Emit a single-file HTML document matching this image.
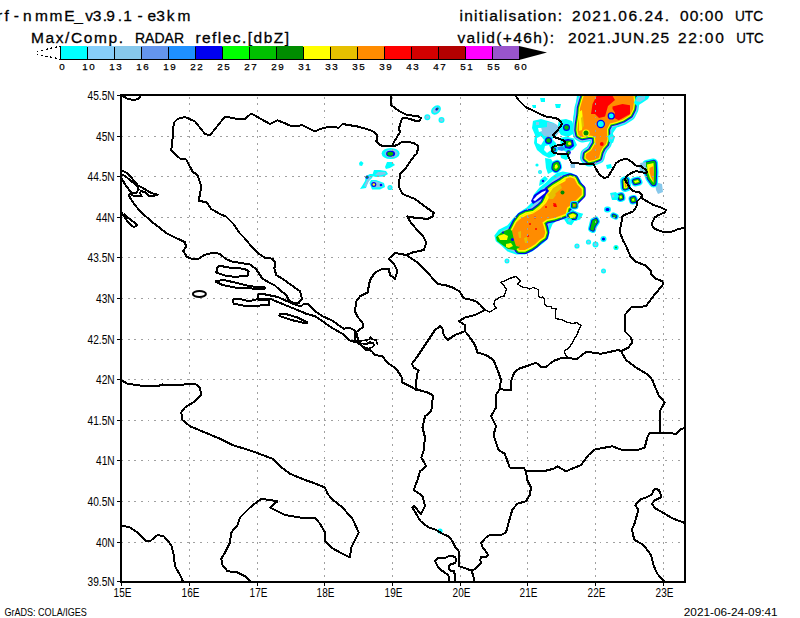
<!DOCTYPE html><html><head><meta charset="utf-8"><title>GrADS radar reflectivity</title><style>html,body{margin:0;padding:0;background:#fff;}svg{display:block;}text{font-family:"Liberation Sans",sans-serif;fill:#000;}</style></head><body>
<svg width="800" height="618" viewBox="0 0 800 618">
<rect x="0" y="0" width="800" height="618" fill="#fff"/>
<text x="-15.6 -3.1 4.42 13.78 23.05 34.95 49.55 64.35 74.25 85.3 92.75 102.85 106.33 117.85 123.2 137.4 147.5 156.2 166.72 177.43" y="21" font-size="15.5" stroke="#000" stroke-width="0.3">wrf-nmmE_v3.9.1-e3km</text>
<text x="31 45.51 55.72 65.07 70.97 83.76 93.98 108.48 118.7" y="43" font-size="15.5" stroke="#000" stroke-width="0.3">Max/Comp.</text>
<text x="135" y="43" font-size="15.5" textLength="48.99" lengthAdjust="spacingAndGlyphs" stroke="#000" stroke-width="0.3">RADAR</text>
<text x="195.4 202.02 212.1 217.87 222.78 232.86 242.07 247.84 253.61 263.69 273.77 284.7" y="43" font-size="15.5" stroke="#000" stroke-width="0.3">reflec.[dbZ]</text>
<text x="459.4 464.14 474.06 478.8 484.41 489.15 499.07 503.81 508.55 517.6 527.52 533.12 537.86 547.78 557.7" y="21" font-size="15.5" stroke="#000" stroke-width="0.3">initialisation:</text>
<text x="572 582.13 592.27 602.4 612.53 618.35 628.48 638.62 644.43 654.57 664.7" y="21" font-size="15.5" stroke="#000" stroke-width="0.3">2021.06.24.</text>
<text x="680 689.68 699.36 704.72 714.4" y="21" font-size="15.5" stroke="#000" stroke-width="0.3">00:00</text>
<text x="735" y="21" font-size="15.5" textLength="28.09" lengthAdjust="spacingAndGlyphs" stroke="#000" stroke-width="0.3">UTC</text>
<text x="457.5 466.62 476.61 481.43 486.24 496.24 502.77 513.19 523.18 533.18 543.17 549.7" y="42.7" font-size="15.5" stroke="#000" stroke-width="0.3">valid(+46h):</text>
<text x="568 577.68 587.35 597.03 606.7 612.06 620.87 633.12 645.36 650.72 660.4" y="42.7" font-size="15.5" stroke="#000" stroke-width="0.3">2021.JUN.25</text>
<text x="678 688.37 698.73 704.78 715.15" y="42.7" font-size="15.5" stroke="#000" stroke-width="0.3">22:00</text>
<text x="736.25" y="42.7" font-size="15.5" textLength="27.49" lengthAdjust="spacingAndGlyphs" stroke="#000" stroke-width="0.3">UTC</text>
<rect x="60" y="46" width="27" height="13" fill="#00ffff"/>
<rect x="87" y="46" width="27" height="13" fill="#87cefa"/>
<rect x="114" y="46" width="27" height="13" fill="#87c8eb"/>
<rect x="141" y="46" width="27" height="13" fill="#6495ed"/>
<rect x="168" y="46" width="27" height="13" fill="#1e90ff"/>
<rect x="195" y="46" width="27" height="13" fill="#0000f0"/>
<rect x="222" y="46" width="27" height="13" fill="#00ff00"/>
<rect x="249" y="46" width="27" height="13" fill="#00c000"/>
<rect x="276" y="46" width="27" height="13" fill="#008c00"/>
<rect x="303" y="46" width="27" height="13" fill="#ffff00"/>
<rect x="330" y="46" width="27" height="13" fill="#e6c000"/>
<rect x="357" y="46" width="27" height="13" fill="#ff8c00"/>
<rect x="384" y="46" width="27" height="13" fill="#ff0000"/>
<rect x="411" y="46" width="27" height="13" fill="#d20000"/>
<rect x="438" y="46" width="27" height="13" fill="#b40000"/>
<rect x="465" y="46" width="27" height="13" fill="#ff00ff"/>
<rect x="492" y="46" width="27" height="13" fill="#9955cc"/>
<rect x="87" y="47" width="1" height="12" fill="#000"/>
<rect x="114" y="47" width="1" height="12" fill="#000"/>
<rect x="141" y="47" width="1" height="12" fill="#000"/>
<rect x="168" y="47" width="1" height="12" fill="#000"/>
<rect x="195" y="47" width="1" height="12" fill="#000"/>
<rect x="222" y="47" width="1" height="12" fill="#000"/>
<rect x="249" y="47" width="1" height="12" fill="#000"/>
<rect x="276" y="47" width="1" height="12" fill="#000"/>
<rect x="303" y="47" width="1" height="12" fill="#000"/>
<rect x="330" y="47" width="1" height="12" fill="#000"/>
<rect x="357" y="47" width="1" height="12" fill="#000"/>
<rect x="384" y="47" width="1" height="12" fill="#000"/>
<rect x="411" y="47" width="1" height="12" fill="#000"/>
<rect x="438" y="47" width="1" height="12" fill="#000"/>
<rect x="465" y="47" width="1" height="12" fill="#000"/>
<rect x="492" y="47" width="1" height="12" fill="#000"/>
<rect x="60" y="46" width="1" height="14" fill="#000"/>
<rect x="59" y="46" width="1" height="1" fill="#000"/>
<rect x="59" y="59" width="461" height="1" fill="#000"/>
<path d="M57,46.8 L37,51.5 M57,58.3 L37,54.2" fill="none" stroke="#000" stroke-width="1.2" stroke-dasharray="2.2 2.6" shape-rendering="crispEdges"/>
<path d="M519,46 L547,52.5 L519,60 Z" fill="#000"/>
<text x="62" y="69.6" font-size="9.8" text-anchor="middle" stroke="#000" stroke-width="0.25">0</text>
<text x="89.2" y="69.6" font-size="9.8" text-anchor="middle" letter-spacing="1.4" stroke="#000" stroke-width="0.25">10</text>
<text x="116.2" y="69.6" font-size="9.8" text-anchor="middle" letter-spacing="1.4" stroke="#000" stroke-width="0.25">13</text>
<text x="143.2" y="69.6" font-size="9.8" text-anchor="middle" letter-spacing="1.4" stroke="#000" stroke-width="0.25">16</text>
<text x="170.2" y="69.6" font-size="9.8" text-anchor="middle" letter-spacing="1.4" stroke="#000" stroke-width="0.25">19</text>
<text x="197.2" y="69.6" font-size="9.8" text-anchor="middle" letter-spacing="1.4" stroke="#000" stroke-width="0.25">22</text>
<text x="224.2" y="69.6" font-size="9.8" text-anchor="middle" letter-spacing="1.4" stroke="#000" stroke-width="0.25">25</text>
<text x="251.2" y="69.6" font-size="9.8" text-anchor="middle" letter-spacing="1.4" stroke="#000" stroke-width="0.25">27</text>
<text x="278.2" y="69.6" font-size="9.8" text-anchor="middle" letter-spacing="1.4" stroke="#000" stroke-width="0.25">29</text>
<text x="305.2" y="69.6" font-size="9.8" text-anchor="middle" letter-spacing="1.4" stroke="#000" stroke-width="0.25">31</text>
<text x="332.2" y="69.6" font-size="9.8" text-anchor="middle" letter-spacing="1.4" stroke="#000" stroke-width="0.25">33</text>
<text x="359.2" y="69.6" font-size="9.8" text-anchor="middle" letter-spacing="1.4" stroke="#000" stroke-width="0.25">35</text>
<text x="386.2" y="69.6" font-size="9.8" text-anchor="middle" letter-spacing="1.4" stroke="#000" stroke-width="0.25">39</text>
<text x="413.2" y="69.6" font-size="9.8" text-anchor="middle" letter-spacing="1.4" stroke="#000" stroke-width="0.25">43</text>
<text x="440.2" y="69.6" font-size="9.8" text-anchor="middle" letter-spacing="1.4" stroke="#000" stroke-width="0.25">47</text>
<text x="467.2" y="69.6" font-size="9.8" text-anchor="middle" letter-spacing="1.4" stroke="#000" stroke-width="0.25">51</text>
<text x="494.2" y="69.6" font-size="9.8" text-anchor="middle" letter-spacing="1.4" stroke="#000" stroke-width="0.25">55</text>
<text x="521.2" y="69.6" font-size="9.8" text-anchor="middle" letter-spacing="1.4" stroke="#000" stroke-width="0.25">60</text>
<defs><clipPath id="mc"><rect x="121" y="95" width="564" height="487"/></clipPath></defs>
<g clip-path="url(#mc)">
<polygon points="577,95 576,104 574,112 573,120 575,128 576,136 582,140 590,140 592,146 587,152 582,156 583,162 590,164 595,164 600,162 603,158 606,152 609,146 611,140 613,133 617,127 624,123 631,118 636,112 638,105 642,100 648,96 650,95" fill="#00ffff"/>
<polygon points="559,120 566,119 572,121 574,127 573,134 568,137 561,135 557,129" fill="#00ffff"/>
<polygon points="533,121 541,119 548,121 554,123 558,128 557,135 552,139 556,143 558,150 555,156 549,158 543,155 537,150 534,143 535,135 532,128" fill="#00ffff"/>
<polygon points="545,158 551,159 554,164 552,172 548,174 546,168" fill="#00ffff"/>
<polygon points="560,138 566,136.5 574,138.5 577,145 573,150 566,152 561,149" fill="#00ffff"/>
<polygon points="560,153 566,153 570,157 566,160 561,158" fill="#00ffff"/>
<polygon points="540,124 548,122 556,124 560,128 558,134 552,137 544,136 540,131" fill="#87c8eb"/>
<polygon points="575,112 578,108 580,120 578,132 574,130 573,120" fill="#87c8eb"/>
<polygon points="537,138 541,136 544,140 541,145 537,143" fill="#ffffff"/>
<polygon points="545,146 549,145 551,150 547,153 544,150" fill="#ffffff"/>
<polygon points="538,128 541,127 542,131 539,132" fill="#ffffff"/>
<polygon points="584,95 582,101 580,108 579.5,115 578,124 577.5,130 578.5,135 582,137 590,135.5 595,136.5 595.5,143 591,150.5 586,154 585.5,158 589,161 594,160 599,158 600.5,152 602.5,148 606,144 607.5,139 607,133 607,129 610,123.5 616,122 623,119.5 630,115 633,109 634,102 633.5,95" fill="#00ffff" stroke="#00ffff" stroke-width="11" stroke-linejoin="round"/>
<polygon points="584,95 582,101 580,108 579.5,115 578,124 577.5,130 578.5,135 582,137 590,135.5 595,136.5 595.5,143 591,150.5 586,154 585.5,158 589,161 594,160 599,158 600.5,152 602.5,148 606,144 607.5,139 607,133 607,129 610,123.5 616,122 623,119.5 630,115 633,109 634,102 633.5,95" fill="#87c8eb" stroke="#87c8eb" stroke-width="8.6" stroke-linejoin="round"/>
<polygon points="584,95 582,101 580,108 579.5,115 578,124 577.5,130 578.5,135 582,137 590,135.5 595,136.5 595.5,143 591,150.5 586,154 585.5,158 589,161 594,160 599,158 600.5,152 602.5,148 606,144 607.5,139 607,133 607,129 610,123.5 616,122 623,119.5 630,115 633,109 634,102 633.5,95" fill="#0000f0" stroke="#0000f0" stroke-width="6.4" stroke-linejoin="round"/>
<polygon points="584,95 582,101 580,108 579.5,115 578,124 577.5,130 578.5,135 582,137 590,135.5 595,136.5 595.5,143 591,150.5 586,154 585.5,158 589,161 594,160 599,158 600.5,152 602.5,148 606,144 607.5,139 607,133 607,129 610,123.5 616,122 623,119.5 630,115 633,109 634,102 633.5,95" fill="#00c000" stroke="#00c000" stroke-width="4.4" stroke-linejoin="round"/>
<polygon points="584,95 582,101 580,108 579.5,115 578,124 577.5,130 578.5,135 582,137 590,135.5 595,136.5 595.5,143 591,150.5 586,154 585.5,158 589,161 594,160 599,158 600.5,152 602.5,148 606,144 607.5,139 607,133 607,129 610,123.5 616,122 623,119.5 630,115 633,109 634,102 633.5,95" fill="#ffff00" stroke="#ffff00" stroke-width="2.4" stroke-linejoin="round"/>
<polygon points="584,95 582,101 580,108 579.5,115 578,124 577.5,130 578.5,135 582,137 590,135.5 595,136.5 595.5,143 591,150.5 586,154 585.5,158 589,161 594,160 599,158 600.5,152 602.5,148 606,144 607.5,139 607,133 607,129 610,123.5 616,122 623,119.5 630,115 633,109 634,102 633.5,95" fill="#ff8c00"/>
<polygon points="597,95 612,95 615,100 608,106 605,116.5 599,118 595,114 591,114 592.5,104" fill="#ff0000"/>
<polygon points="612.5,106.5 622.5,104 630,105.25 630,114 618.75,120.25 613.75,117.75 615,112.75 612.5,109" fill="#ff0000"/>
<circle cx="611.25" cy="115.9" r="3.6" fill="#0000f0"/>
<circle cx="611.25" cy="115.9" r="2.4" fill="#00ffff"/>
<circle cx="600.8" cy="124" r="4.2" fill="#0000f0"/>
<circle cx="600.8" cy="124" r="3" fill="#00ffff"/>
<polygon points="579,112 582,110 583,121 582,130 579,131" fill="#ffff00"/>
<polygon points="581,118 583,116 584,126 582,128" fill="#e6c000"/>
<circle cx="586" cy="133" r="3.6" fill="#ffff00"/>
<circle cx="586" cy="133" r="2.5" fill="#008c00"/>
<circle cx="601.8" cy="144" r="1.9" fill="#ff0000"/>
<circle cx="566.5" cy="127.5" r="3.5" fill="#0000f0"/>
<circle cx="566.5" cy="127.5" r="2.3" fill="#00c000"/>
<circle cx="548.5" cy="140.5" r="3.5" fill="#0000f0"/>
<circle cx="548.5" cy="140.5" r="2.3" fill="#00c000"/>
<polygon points="563,140 568,139 573,140 574,146 570,149 565,148" fill="#0000f0"/>
<polygon points="565,141 571,140.5 572,145 568,147 566,146" fill="#00c000"/>
<circle cx="569.5" cy="143.5" r="1.6" fill="#ffff00"/>
<circle cx="554" cy="149.5" r="2.2" fill="#0000f0"/>
<circle cx="554" cy="149.5" r="1.2" fill="#00c000"/>
<circle cx="568.5" cy="152.5" r="2.3" fill="#0000f0"/>
<circle cx="568.5" cy="152.5" r="1.3" fill="#00c000"/>
<polygon points="557,147 562,146 566,149 562,151 558,150" fill="#1e90ff"/>
<polygon points="555,165 557,164 558,167 556,169 554.5,168" fill="#00ffff" stroke="#00ffff" stroke-width="8.4" stroke-linejoin="round"/>
<polygon points="555,165 557,164 558,167 556,169 554.5,168" fill="#0000f0" stroke="#0000f0" stroke-width="6.4" stroke-linejoin="round"/>
<polygon points="555,165 557,164 558,167 556,169 554.5,168" fill="#00c000" stroke="#00c000" stroke-width="4.4" stroke-linejoin="round"/>
<polygon points="555,165 557,164 558,167 556,169 554.5,168" fill="#ffff00"/>
<polygon points="570,164 575,164 575,168 571,168" fill="#87c8eb"/>
<polygon points="540,98 545,98 545,102 541,102" fill="#00ffff"/>
<polygon points="555,104 561,104 560,108 556,108" fill="#00ffff"/>
<polygon points="532,105 536,105 536,108 533,108" fill="#00ffff"/>
<polygon points="533,121 540,120 547,122 547,127 540,128 534,126" fill="#00ffff"/>
<polygon points="536,122 539,122 539,125 536,125" fill="#87c8eb"/>
<circle cx="537" cy="165" r="1.6" fill="#00ffff"/>
<circle cx="540" cy="172" r="2" fill="#00ffff"/>
<circle cx="540" cy="172" r="1" fill="#87c8eb"/>
<polygon points="494.4,235.5 498.7,229.7 507.5,225.3 513.3,218 519.1,212.2 526.4,207.8 532.2,202 533.7,194.7 539.5,187.5 545.3,183.1 551.1,177.3 557,172.9 562.8,171.5 571.5,172.9 577.3,175.8 580.2,180.2 584.6,188.9 583.2,196.2 580.2,200.6 574.4,204.9 571.5,209.3 577.3,212.2 583.2,213.7 580.2,219.5 574.4,220.9 571.5,225.3 567.1,223.9 564.2,219.5 558.4,219.5 552.6,223.9 549.7,231.1 548.2,238.4 543.9,242.8 538,247.1 532.2,251.5 524.9,254.4 516.2,254.4 507.5,251.5 501.6,245.7 495.8,241.3" fill="#00ffff"/>
<polygon points="498,236 502,231 510,227 516,220 522,214 529,209 535,203 537,195 542,189 548,185 553,180 559,176 566,174.5 573,175.5 578,179 582,188 581,195 577,200 571,205 570,210 576,213 579,216 575,219 569,221 566,218 558,217.5 551,221.5 547,230 546,237 541,242 535,246.5 530,250 524,252.5 516,252.5 508,249.5 502,244 497,240.5" fill="#87c8eb"/>
<polygon points="511.8,231.1 516.2,222.4 520.6,216.6 526.4,213.7 533.7,212.2 539.5,207.8 543.9,203.5 546.8,197.7 548.2,190.4 554,186 561.3,181.6 565.7,178.7 570.1,177.3 574.4,178.7 577.3,184.6 581.7,188.9 581.7,194.7 577.3,199.1 573,203.5 567.1,207.8 565.7,213.7 558.4,216.6 554,218 546.8,219.5 542.4,222.4 543.9,226.8 545.3,232.6 543.9,237 539.5,239.9 535.1,244.2 530.8,247.1 524.9,250.1 519.1,250.1 516.2,245.7 514.7,241.3 511.8,235.5" fill="#0000f0" stroke="#0000f0" stroke-width="8" stroke-linejoin="round"/>
<polygon points="511.8,231.1 516.2,222.4 520.6,216.6 526.4,213.7 533.7,212.2 539.5,207.8 543.9,203.5 546.8,197.7 548.2,190.4 554,186 561.3,181.6 565.7,178.7 570.1,177.3 574.4,178.7 577.3,184.6 581.7,188.9 581.7,194.7 577.3,199.1 573,203.5 567.1,207.8 565.7,213.7 558.4,216.6 554,218 546.8,219.5 542.4,222.4 543.9,226.8 545.3,232.6 543.9,237 539.5,239.9 535.1,244.2 530.8,247.1 524.9,250.1 519.1,250.1 516.2,245.7 514.7,241.3 511.8,235.5" fill="#00c000" stroke="#00c000" stroke-width="5.6" stroke-linejoin="round"/>
<polygon points="511.8,231.1 516.2,222.4 520.6,216.6 526.4,213.7 533.7,212.2 539.5,207.8 543.9,203.5 546.8,197.7 548.2,190.4 554,186 561.3,181.6 565.7,178.7 570.1,177.3 574.4,178.7 577.3,184.6 581.7,188.9 581.7,194.7 577.3,199.1 573,203.5 567.1,207.8 565.7,213.7 558.4,216.6 554,218 546.8,219.5 542.4,222.4 543.9,226.8 545.3,232.6 543.9,237 539.5,239.9 535.1,244.2 530.8,247.1 524.9,250.1 519.1,250.1 516.2,245.7 514.7,241.3 511.8,235.5" fill="#ffff00" stroke="#ffff00" stroke-width="3.2" stroke-linejoin="round"/>
<polygon points="511.8,231.1 516.2,222.4 520.6,216.6 526.4,213.7 533.7,212.2 539.5,207.8 543.9,203.5 546.8,197.7 548.2,190.4 554,186 561.3,181.6 565.7,178.7 570.1,177.3 574.4,178.7 577.3,184.6 581.7,188.9 581.7,194.7 577.3,199.1 573,203.5 567.1,207.8 565.7,213.7 558.4,216.6 554,218 546.8,219.5 542.4,222.4 543.9,226.8 545.3,232.6 543.9,237 539.5,239.9 535.1,244.2 530.8,247.1 524.9,250.1 519.1,250.1 516.2,245.7 514.7,241.3 511.8,235.5" fill="#ff8c00"/>
<polygon points="516.2,222.4 520.6,216.6 526.4,213.7 533.7,212.2 539.5,207.8 543.9,203.5 546.8,197.7 548.2,190.4 554,186 561.3,181.6 565.7,178.7 565.5,181 559,184.5 553,189 550,196 546,203 540,209 533,213.5 526,215.5 520,219" fill="#ffff00"/>
<polygon points="553,188 560,184 562,188 556,193 551,198 549,194" fill="#e6c000"/>
<polygon points="650,95 643,95 636,97 634,103 637,106 642,103 648,99" fill="#00ffff"/>
<polygon points="645,96 638,97 636,101 640,102 645,99" fill="#87c8eb"/>
<polygon points="608,136 612,133 615,137 613,143 609,142" fill="#00ffff"/>
<circle cx="611.5" cy="138" r="1.5" fill="#87c8eb"/>
<polygon points="540,180 545,176 548,179 543,184 539,186" fill="#00ffff"/>
<circle cx="543" cy="181" r="1.3" fill="#0000f0"/>
<polygon points="548,194 553,191 556,195 553,199 549,199" fill="#e6c000"/>
<ellipse cx="539.5" cy="196" rx="8" ry="2.8" transform="rotate(-38 539.5 196)" fill="#ffffff"/>
<polygon points="531,201 534,195 541,190 547,188 549,191 544,197 538,201 533,204" fill="#0000f0"/>
<polygon points="533,200 537,195.5 542,192 546,190.5 545,193 540,197 535,201" fill="#ffffff"/>
<circle cx="562.5" cy="192.5" r="2" fill="#008c00"/>
<polygon points="496,237 502,232 509,229 514,232 517,240 520,247 515,250 508,249 501,244 497,241" fill="#00c000"/>
<polygon points="498,236 504,234 508,236 507,240 500,240" fill="#ffff00"/>
<polygon points="506,244 511,243 513,246 509,248 506,247" fill="#ffff00"/>
<circle cx="512.5" cy="239.5" r="1.6" fill="#0000f0"/>
<circle cx="503" cy="232.5" r="1" fill="#0000f0"/>
<polygon points="512,231 516,226 519,230 518,240 520,247 516,246 514,240" fill="#ff8c00"/>
<circle cx="554.5" cy="205.5" r="1.2" fill="#ff0000"/>
<polygon points="553,203 556,203.5 557,207 554.5,207" fill="#ff0000"/>
<circle cx="546" cy="207" r="1" fill="#ff0000"/>
<circle cx="535" cy="217.5" r="1" fill="#ff0000"/>
<circle cx="530" cy="224" r="1" fill="#ff0000"/>
<circle cx="536" cy="229" r="1" fill="#ff0000"/>
<circle cx="528" cy="236" r="1" fill="#ff0000"/>
<polygon points="518,232 521,231 521,238 519,238" fill="#e6c000"/>
<polygon points="524,238 527,237 528,243 525,243" fill="#e6c000"/>
<polygon points="569,215 573,213.5 576,215 575,218 570,218" fill="#00ffff" stroke="#00ffff" stroke-width="6" stroke-linejoin="round"/>
<polygon points="569,215 573,213.5 576,215 575,218 570,218" fill="#0000f0" stroke="#0000f0" stroke-width="4" stroke-linejoin="round"/>
<polygon points="569,215 573,213.5 576,215 575,218 570,218" fill="#00c000" stroke="#00c000" stroke-width="2" stroke-linejoin="round"/>
<polygon points="569,215 573,213.5 576,215 575,218 570,218" fill="#ffff00"/>
<polygon points="573,204 575.5,204 575.5,206.5 573,206.5" fill="#00ffff" stroke="#00ffff" stroke-width="6" stroke-linejoin="round"/>
<polygon points="573,204 575.5,204 575.5,206.5 573,206.5" fill="#0000f0" stroke="#0000f0" stroke-width="4" stroke-linejoin="round"/>
<polygon points="573,204 575.5,204 575.5,206.5 573,206.5" fill="#00c000" stroke="#00c000" stroke-width="2.4" stroke-linejoin="round"/>
<polygon points="573,204 575.5,204 575.5,206.5 573,206.5" fill="#ff8c00"/>
<circle cx="569.5" cy="220.5" r="2.6" fill="#00ffff"/>
<circle cx="569.5" cy="220.5" r="1.4" fill="#87c8eb"/>
<polygon points="593,221 596,219.5 597,221.5 594,226 593,230 591,229" fill="#00ffff" stroke="#00ffff" stroke-width="6" stroke-linejoin="round"/>
<polygon points="593,221 596,219.5 597,221.5 594,226 593,230 591,229" fill="#0000f0" stroke="#0000f0" stroke-width="3.6" stroke-linejoin="round"/>
<polygon points="593,221 596,219.5 597,221.5 594,226 593,230 591,229" fill="#00c000" stroke="#00c000" stroke-width="1.6" stroke-linejoin="round"/>
<polygon points="593,221 596,219.5 597,221.5 594,226 593,230 591,229" fill="#00c000"/>
<polygon points="655,182 662,184 663,192 658,194 656,190" fill="#87c8eb"/>
<polygon points="647,164.5 653.5,163 654,172 653.5,183 650,178 647.5,171" fill="#00ffff" stroke="#00ffff" stroke-width="9" stroke-linejoin="round"/>
<polygon points="647,164.5 653.5,163 654,172 653.5,183 650,178 647.5,171" fill="#0000f0" stroke="#0000f0" stroke-width="6.4" stroke-linejoin="round"/>
<polygon points="647,164.5 653.5,163 654,172 653.5,183 650,178 647.5,171" fill="#00c000" stroke="#00c000" stroke-width="4.4" stroke-linejoin="round"/>
<polygon points="647,164.5 653.5,163 654,172 653.5,183 650,178 647.5,171" fill="#ffff00"/>
<polygon points="649.5,168 653.5,166 654,174 653.5,182 651,177 649.5,172" fill="#ff8c00"/>
<polygon points="639,165 644,164 647,168 645,172 640,171" fill="#87c8eb"/>
<polygon points="640,163 646,162 646,166 641,167" fill="#87c8eb"/>
<polygon points="624.5,181 626,180.5 626.5,187 625,187.5" fill="#00ffff" stroke="#00ffff" stroke-width="9" stroke-linejoin="round"/>
<polygon points="624.5,181 626,180.5 626.5,187 625,187.5" fill="#0000f0" stroke="#0000f0" stroke-width="6" stroke-linejoin="round"/>
<polygon points="624.5,181 626,180.5 626.5,187 625,187.5" fill="#00c000" stroke="#00c000" stroke-width="4" stroke-linejoin="round"/>
<polygon points="624.5,181 626,180.5 626.5,187 625,187.5" fill="#ffff00" stroke="#ffff00" stroke-width="2" stroke-linejoin="round"/>
<polygon points="624.5,181 626,180.5 626.5,187 625,187.5" fill="#ff8c00"/>
<polygon points="634,181 638,180 639,182 635,183" fill="#00ffff" stroke="#00ffff" stroke-width="7" stroke-linejoin="round"/>
<polygon points="634,181 638,180 639,182 635,183" fill="#0000f0" stroke="#0000f0" stroke-width="4.4" stroke-linejoin="round"/>
<polygon points="634,181 638,180 639,182 635,183" fill="#00c000" stroke="#00c000" stroke-width="2.4" stroke-linejoin="round"/>
<polygon points="634,181 638,180 639,182 635,183" fill="#ffff00"/>
<polygon points="632,199 634,198.5 634.5,200.5 632.5,201" fill="#00ffff" stroke="#00ffff" stroke-width="7" stroke-linejoin="round"/>
<polygon points="632,199 634,198.5 634.5,200.5 632.5,201" fill="#0000f0" stroke="#0000f0" stroke-width="5" stroke-linejoin="round"/>
<polygon points="632,199 634,198.5 634.5,200.5 632.5,201" fill="#00c000" stroke="#00c000" stroke-width="3" stroke-linejoin="round"/>
<polygon points="632,199 634,198.5 634.5,200.5 632.5,201" fill="#ffff00"/>
<polygon points="619.5,196 621.5,195.5 622,198 620,198.5" fill="#00ffff" stroke="#00ffff" stroke-width="7" stroke-linejoin="round"/>
<polygon points="619.5,196 621.5,195.5 622,198 620,198.5" fill="#0000f0" stroke="#0000f0" stroke-width="4.6" stroke-linejoin="round"/>
<polygon points="619.5,196 621.5,195.5 622,198 620,198.5" fill="#00c000" stroke="#00c000" stroke-width="2.6" stroke-linejoin="round"/>
<polygon points="619.5,196 621.5,195.5 622,198 620,198.5" fill="#ffff00"/>
<polygon points="610,193 616,192 619,196 617,200 612,200" fill="#00ffff"/>
<circle cx="613" cy="196" r="1.5" fill="#87c8eb"/>
<polygon points="607,209.5 608,209.5" fill="#00ffff" stroke="#00ffff" stroke-width="6" stroke-linejoin="round"/>
<polygon points="607,209.5 608,209.5" fill="#0000f0" stroke="#0000f0" stroke-width="3" stroke-linejoin="round"/>
<polygon points="607,209.5 608,209.5" fill="#0000f0"/>
<polygon points="613.5,215.5 615.5,216.5" fill="#00ffff" stroke="#00ffff" stroke-width="6.4" stroke-linejoin="round"/>
<polygon points="613.5,215.5 615.5,216.5" fill="#0000f0" stroke="#0000f0" stroke-width="4" stroke-linejoin="round"/>
<polygon points="613.5,215.5 615.5,216.5" fill="#00c000" stroke="#00c000" stroke-width="2" stroke-linejoin="round"/>
<polygon points="613.5,215.5 615.5,216.5" fill="#00c000"/>
<circle cx="595.5" cy="244.5" r="3" fill="#00ffff"/>
<circle cx="595.5" cy="244.5" r="1.6" fill="#87c8eb"/>
<circle cx="577" cy="246" r="2.6" fill="#00ffff"/>
<circle cx="577" cy="246" r="1.3" fill="#87c8eb"/>
<circle cx="588.5" cy="242" r="2.6" fill="#00ffff"/>
<circle cx="588.5" cy="242" r="1.3" fill="#87c8eb"/>
<circle cx="603.5" cy="239" r="3" fill="#00ffff"/>
<circle cx="603.5" cy="239" r="1.6" fill="#0000f0"/>
<circle cx="616" cy="247.5" r="2.6" fill="#00ffff"/>
<circle cx="616" cy="247.5" r="1" fill="#00c000"/>
<circle cx="603.5" cy="271" r="2.5" fill="#00ffff"/>
<circle cx="603.5" cy="271" r="1.2" fill="#87c8eb"/>
<circle cx="507" cy="261" r="2.5" fill="#00ffff"/>
<circle cx="507" cy="261" r="1.2" fill="#87c8eb"/>
<polygon points="606,165 611,164 612,168 607,169" fill="#00ffff"/>
<ellipse cx="390.6" cy="153.5" rx="9" ry="5.5" transform="rotate(0 390.6 153.5)" fill="#00ffff"/>
<ellipse cx="391.2" cy="153.5" rx="6.5" ry="4" transform="rotate(0 391.2 153.5)" fill="#87c8eb"/>
<ellipse cx="390.6" cy="153.7" rx="4.5" ry="3" transform="rotate(0 390.6 153.7)" fill="#0000f0"/>
<ellipse cx="390.2" cy="153.8" rx="3" ry="2" transform="rotate(0 390.2 153.8)" fill="#00c000"/>
<polygon points="359,163 361,161 363.5,163 362,166 359.5,165.5" fill="#00ffff"/>
<polygon points="385,167 387,162 392,162 395,165 390,168 386,169" fill="#00ffff"/>
<polygon points="372,176 374,170 380,170 386,171 388,174 384,176.5 376,177" fill="#00ffff"/>
<polygon points="375,175 378,172 385,172 386,174 380,175.5" fill="#87c8eb"/>
<polygon points="362,186 365,181 366,176 370,174 374,174 372,178 368,182 366,188 360,189" fill="#00ffff"/>
<polygon points="364,186 367,180 369,176 371,177 368,183 366,187" fill="#87c8eb"/>
<circle cx="367" cy="177.2" r="1.6" fill="#0000f0"/>
<circle cx="367" cy="177.2" r="0.9" fill="#00c000"/>
<polygon points="369.5,183 371,180 376,180 384,183 385,187 380,189.5 372,189.5" fill="#00ffff"/>
<polygon points="371,184 373,181 377,181.5 383,184 382,187 375,187.5" fill="#87c8eb"/>
<circle cx="373.8" cy="184.5" r="2.5" fill="#0000f0"/>
<circle cx="373.8" cy="184.5" r="1.3" fill="#ffff00"/>
<circle cx="381" cy="185" r="1.3" fill="#0000f0"/>
<circle cx="390" cy="187.5" r="2.6" fill="#00ffff"/>
<circle cx="390" cy="187.5" r="1.3" fill="#87c8eb"/>
<ellipse cx="436" cy="110" rx="5.5" ry="4" transform="rotate(-40 436 110)" fill="#00ffff"/>
<ellipse cx="436" cy="110" rx="3.5" ry="2.3" transform="rotate(-40 436 110)" fill="#87c8eb"/>
<ellipse cx="437" cy="109" rx="1.8" ry="1.2" transform="rotate(-40 437 109)" fill="#0000f0"/>
<circle cx="437.5" cy="108.8" r="0.8" fill="#00c000"/>
<circle cx="427.3" cy="117.3" r="3" fill="#00ffff"/>
<circle cx="427.3" cy="117.3" r="1.8" fill="#87c8eb"/>
<circle cx="441.5" cy="120" r="3" fill="#00ffff"/>
<circle cx="441.5" cy="120" r="1.8" fill="#87c8eb"/>
<circle cx="440" cy="531" r="2.6" fill="#00ffff"/>
<path d="M189.5,95V582M257.5,95V582M324.5,95V582M392.5,95V582M460.5,95V582M527.5,95V582M595.5,95V582M663.5,95V582" fill="none" stroke="#a0a0a0" stroke-width="1" stroke-dasharray="1.9 4.65" stroke-dashoffset="4.7" shape-rendering="crispEdges"/>
<path d="M121,136.5H685M121,176.5H685M121,217.5H685M121,257.5H685M121,298.5H685M121,339.5H685M121,379.5H685M121,420.5H685M121,460.5H685M121,501.5H685M121,542.5H685" fill="none" stroke="#a0a0a0" stroke-width="1" stroke-dasharray="1.9 4.65" stroke-dashoffset="6.2" shape-rendering="crispEdges"/>
<polyline points="121,95 127,98.5 133.75,100.25 138,99 141,95.5" fill="none" stroke="#000" stroke-width="2" stroke-linejoin="round" shape-rendering="crispEdges"/>
<polyline points="394,146 382,146 379,144 376,141 377,140 377.5,135 374,132 370,130 357.5,126.5 342.5,124 338.75,127.75 330,126.5 320,129 315,131.5 302.5,125.25 292.5,126.5 277.5,120.25 270,124 251.25,113.5 245,119 237.5,119 225,116.5 215,129 210,135.25 205,134 195,121.5 185,117 177.5,119 173.75,122.75 172.5,139 171.25,150.25 180,158.5 186.25,159.5 192.5,171.5 197.5,175.25 201.25,186.5 198.75,201 206.25,202 211.25,209 220,214 226,216.5 233.5,224 239.5,233 244,237.5 251.5,246.5 259,254 265,257.7 272.5,258.75 275,262.5 274.4,268.75 276.25,275 282.5,278.75 291.25,285 300,291.25 301.9,298.75 299,302.5 292,302.5" fill="none" stroke="#000" stroke-width="2" stroke-linejoin="round" shape-rendering="crispEdges"/>
<polyline points="121,170 126.1,172.5 130.5,176.25 134.25,181.25 138,185.6 143,188.1 148,191.25 151.75,193.1 157.75,194.75 153,196 148.6,196.25 148,194.4 144.9,192.25 141.1,191 139.9,193.1 141.75,196.25 134.25,196.25 130.5,193.75 128.6,195 133,202.5 138,208.75 144.25,215 154.25,223.75 160,228 166,233 175,237.5 184.7,242 186.2,246.5 183.2,251 187,257 193,259.2 199,258.5 205,254.7 214,252.5 220,254 226,259.2 232,261.5 250,264.5 256,269 262.5,278.75 271.25,283.75 275,285.6 281.25,291.25 286.25,295 288.75,300 292.5,302.5 300,302.5" fill="none" stroke="#000" stroke-width="2" stroke-linejoin="round" shape-rendering="crispEdges"/>
<polyline points="121.75,178.75 125.5,185 129.25,190 131.75,193.1 136.75,192.5 138.6,189.4 136.75,185.6 130.5,180.6 125.5,176.25 121,174" fill="none" stroke="#000" stroke-width="2" stroke-linejoin="round" shape-rendering="crispEdges"/>
<polyline points="121,212 124.25,216.25 127.4,221.25 131.75,226.25 134.25,226.9 137.4,225 134.25,222.5 129.25,218.75 123.6,213.75" fill="none" stroke="#000" stroke-width="2" stroke-linejoin="round" shape-rendering="crispEdges"/>
<polyline points="218.75,265.6 228.75,267.5 243.75,268.75 248.75,271.25 247.5,275.6 235,276.9 225,275.6 216.25,272.5 217.5,267.5 218.75,265.6" fill="none" stroke="#000" stroke-width="2" stroke-linejoin="round" shape-rendering="crispEdges"/>
<polyline points="215,281.25 223.75,280 235,282.5 250,286.25 265,287.5 263.75,289.4 256.25,288.75 235,287.5 222.5,285 215,281.25" fill="none" stroke="#000" stroke-width="2" stroke-linejoin="round" shape-rendering="crispEdges"/>
<polyline points="232.5,298.75 241.25,299.4 248.75,301.25 256.25,299.4 268.75,300 268.75,305 247.5,306.25 233.75,303.75 232.5,298.75" fill="none" stroke="#000" stroke-width="2" stroke-linejoin="round" shape-rendering="crispEdges"/>
<polyline points="278.75,314.4 285,313.75 297.5,317.5 307.5,322.5 305,323.1 291.25,320 280,316.25 278.75,314.4" fill="none" stroke="#000" stroke-width="2" stroke-linejoin="round" shape-rendering="crispEdges"/>
<polyline points="257.5,293.75 265,294.4 277.5,296.9 290,302.5 296,305" fill="none" stroke="#000" stroke-width="2" stroke-linejoin="round" shape-rendering="crispEdges"/>
<polyline points="290,301.9 296.25,305 301.25,306.25 303.75,303.75 308.75,304.4 315,311.25 322.5,316.25 332.5,320.6 337.5,324.4 343.75,328.75 348.75,327.5 353.75,330 356.25,332.5 358.75,342.5" fill="none" stroke="#000" stroke-width="2" stroke-linejoin="round" shape-rendering="crispEdges"/>
<polyline points="257.5,293.75 257.5,298.75 270,298.75 285,305 297.5,310 306.25,313.75 315,316.25 322.5,321.25 331.25,327.5 342.5,333.75 350,340.6 357.5,342.5 362.5,346.25 366.25,350 371.25,350.6 375,355 382.5,356.25 386.25,361.25 391.25,365.6 395,367.5 398.75,372.5 401.9,377.5 402.5,382.5 407.5,385 412.5,387.5 416.25,390 418.75,390 427.5,392.5 432.5,395 432.5,400 431.25,411.25 425,416.25 422.5,427.5 425,437.5 423.75,450 421.25,457.5 426.25,466.25 420,471.25 417.5,480 413.75,490 422.5,496 425,506 421,514 414,506 412.5,507.5 417.5,516 420,520.6 423.75,523.75 428.75,527.5 436.25,530 442.5,533.75 449.4,536.9 452.5,541.25 455.6,547.5 458.75,551.25 459.4,557.5 459.4,566.25 465,568.1 471.25,570.6 473.1,575 475,583" fill="none" stroke="#000" stroke-width="2" stroke-linejoin="round" shape-rendering="crispEdges"/>
<polyline points="358,341 364,340.5 369,339.5 370.5,337 372.5,339.5 376,340 377,342.5 377.5,345.5" fill="none" stroke="#000" stroke-width="1.6" stroke-linejoin="round" shape-rendering="crispEdges"/>
<polyline points="359,343 365,344 370,343.5 373,342.5 374,345 372,347.5 368,348.5 364,347 361,345" fill="none" stroke="#000" stroke-width="1.6" stroke-linejoin="round" shape-rendering="crispEdges"/>
<polyline points="366,341 368,343 371,341.5" fill="none" stroke="#000" stroke-width="1.4" stroke-linejoin="round" shape-rendering="crispEdges"/>
<polyline points="391.5,93 390.5,98 391,105 395,108 400,111.5 406,114.5 412,115.5 417,115.5 421,118 420,120.5 416,121 410,119 404,117.5 402,119 400,124 399,129 400,132 397,137 394,142 393,144 394,146" fill="none" stroke="#000" stroke-width="2" stroke-linejoin="round" shape-rendering="crispEdges"/>
<polyline points="394,146 397,145 402,142 406,141.5 414,143 418,146 418,149 416.5,154 413.75,156.5 405,169 400,174 398.75,186.5 402.5,194 415,199 425,206.5 433.75,212.75 432.5,216.5 427.5,219 415,217.75 407.5,216.5 410,221.5 416.25,229 422.5,235.25 426.25,242.5 423.75,250 412.5,252.5 406.25,255 395,253 388.75,258.75 393.75,263.75 397.5,271.25 395,278.75 390,275 388.75,268.75 382.5,268.75 375,272.5 370,280 367.5,292.5 360,296.25 356.25,301.25 355,311.25 358.1,317.5 362.5,322.5 362.5,327.5 357.5,331.25 355,333.1 355,340 358.75,342.5" fill="none" stroke="#000" stroke-width="2" stroke-linejoin="round" shape-rendering="crispEdges"/>
<polyline points="406.25,255 417.5,262.5 427.5,272.5 437.5,283.75 446.5,285.5 452.5,287.5 459,291 461,293.5 462.5,297 465,298.5 472.5,300 476,301.5 480,304.5 485,310" fill="none" stroke="#000" stroke-width="2" stroke-linejoin="round" shape-rendering="crispEdges"/>
<polyline points="485,310 489.7,312.1 496.2,308 493.8,304.8 494.6,300.7 499.4,297.5 504.3,295.9 505.9,291 506.7,289.4 504.3,286.2 501,282.1 505.9,280.5 510.7,278.1 515.6,276.5 518.8,278.9 520.5,281.3 517.2,283.8 522.1,287 526.9,287.8 530,289 533,287.5 537,289 538.5,290 538.5,296 540,297.5 543,297 544.5,299 544.5,304 547,306.5 551,306.5 552,308.5 556,308.8 555.2,318.5 560.9,319.4 565.8,321.8 572.2,323.4 577.1,322.6 581.1,325.8 578.7,329.9 577.1,334.7 573.9,339.6 571.4,344.4 568.2,348.5 564.1,350.9 565.8,355 568.2,358.2" fill="none" stroke="#000" stroke-width="1.3" stroke-linejoin="round" shape-rendering="crispEdges"/>
<polyline points="485,310 475,315 465,317.5 458.75,321.25 465,325 465,331.25 455,335 447.5,340 443.75,335 442.5,328.75 440,326.25 435,330 430,337.5 422.5,348.75 417.5,356.25 411.9,363.75 413.75,367.5 418.75,370.6 417.5,373.1 416.25,380 415.6,386.25 417.5,391.25" fill="none" stroke="#000" stroke-width="2" stroke-linejoin="round" shape-rendering="crispEdges"/>
<polyline points="465,331.25 470,337.5 475,345 477.5,352.5 486,355 493.5,360 498.5,372.5 501,380 499.75,388.75 496,395 496,407.5 491,416.25 496,426.25 493.5,435 498.5,450 504.75,453.75 509.75,467.5 523.5,467.5 526,471.25 527.25,480 531,487.5 529.75,495 526,501.25 517.25,503.75 512.25,510 509.75,518.75 506,532.5 501,535 489.75,535 486,537.5 481.25,542.5 481.9,546.25 485,550 488.1,555 486.25,557.5 481.25,556.9 480,560 481.25,563.1 477.5,566.9 475,569.4 471.25,570" fill="none" stroke="#000" stroke-width="2" stroke-linejoin="round" shape-rendering="crispEdges"/>
<polyline points="568.2,358.2 560.9,358.2 554.4,360.6 549.6,363.9 546.3,367.1 541.5,367.1 538.3,363.9 535,363 528.5,365.5 518.8,368.7 514,373 511.5,380 511,390 505,390 499.75,388.75" fill="none" stroke="#000" stroke-width="2" stroke-linejoin="round" shape-rendering="crispEdges"/>
<polyline points="568.2,358.2 577.1,359 581.9,355 586.8,351.7 601,353.75 618.5,350 621,351.25" fill="none" stroke="#000" stroke-width="2" stroke-linejoin="round" shape-rendering="crispEdges"/>
<polyline points="641,197.5 637.25,201.25 637.25,205 633.5,211.25 627.25,213.75 622.25,216.25 621.6,221.25 620.4,227.5 620.4,233.75 623.5,241.25 627.25,248.75 630.4,256.25 634.75,261.25 641,263.75 646,265.6 650.4,270 651.6,275 656,278.75 662.25,281.25 663.5,283.75 658.5,290 652.25,297.5 646,306.25 631,307.5 624.75,315 624.75,331.25 631,337.5 632.25,342.5 628.5,347.5 621,351.25" fill="none" stroke="#000" stroke-width="2" stroke-linejoin="round" shape-rendering="crispEdges"/>
<polyline points="621,351.25 626,360 636,367.5 648.5,375 652.25,380 658.5,395 664.75,402.5 659.75,411.25 659.75,432.5" fill="none" stroke="#000" stroke-width="2" stroke-linejoin="round" shape-rendering="crispEdges"/>
<polyline points="526,471.25 543.5,471.25 553.5,468.75 557.25,466.25 566,471.25 581,465 588.5,455 594.75,449.5 612.25,446.25 621,449.5 636,450.5 644.75,447.5 647.25,437.5 649.75,432.5 659.75,432.5 676,433.75 681,428.75 686,428" fill="none" stroke="#000" stroke-width="2" stroke-linejoin="round" shape-rendering="crispEdges"/>
<polyline points="513.75,93 518.75,100.25 525.6,107.1 532.5,110.25 540,114 547.5,117.1 555,117.75 558.75,119.6 561.9,123.4 560.6,126.5 556.9,130.9 553.1,134.6 554.4,137.1 560,139 564.4,140.9 565,143.4 562.5,144.6 555,145.9 551.9,147.75 552.5,151.5 555,153.4 567.5,154 568.75,157.75 571.25,162.75 577.5,163.4 587.5,164 593.5,164.4 596,168.75 599.75,175 604.75,178.1 607.9,176.9 612.25,170 616,163.1 619.75,160.6 626,158.5 629.1,160 636,165.6 641,166.25 646,170 647.25,172.5 644.75,173.1 641,171.9 636,171.25 631,173.1 626,176.9 624.75,179.4 627.25,183.75 629.75,187.5 633.5,191.25 639.75,192.5 642.25,195 641,197.5" fill="none" stroke="#000" stroke-width="2" stroke-linejoin="round" shape-rendering="crispEdges"/>
<polyline points="641,197.5 644.75,200 653.5,205 661,207.5 666,210 664.75,212.5 658.5,215 654.75,217.5 652.25,222.5 651.6,225 654.75,228.75 661,231.25 667.25,232.5 673.5,231.25 678.5,228.75 687,228" fill="none" stroke="#000" stroke-width="2" stroke-linejoin="round" shape-rendering="crispEdges"/>
<polyline points="687,526 684,522.6 680.1,521.2 673.3,518.7 666.5,514.8 660.7,511.4 654.9,508 652,503.7 654.9,500.3 660.7,497.4 660.7,494.4 658.8,490.1 655.8,488.6 653.4,490.1 652.9,492.5 651,494.9 645.2,497.8 639.8,499.8 635.4,505.1 638.4,510 636.4,516.8 634.5,523.6 632,529.4 633,535 634.75,540 643.5,545 651,555 653.5,565 657.25,573.75 666,583" fill="none" stroke="#000" stroke-width="2" stroke-linejoin="round" shape-rendering="crispEdges"/>
<polyline points="119,378.75 127.5,383.75 145,386.25 157.5,386.25 162.5,384.5 177.5,385 195,383.75 200,387.5 201.25,395 195,401.25 185,407.5 181.25,412.5 182.5,420 190,426.25 205,432.5 220,438.75 232.5,445 252.5,451.25 272.5,458.75 280,466.25 290,473.75 305,480 312.5,482.5 325,487.5 327.5,493.75 333,500 342.5,507.5 352.5,518.75 358.75,532.5 355,540 351.25,547.5 350,557.5 340,552.5 331.25,547.5 325,541.25 325,532.5 320,523.75 315,517.5 300,517.5 285,515 270,507.5 277.5,501.25 261.25,498.75 250,507.5 240,517.5 237.5,525 231.25,532.5 230,542.5 225,552.5 221.25,558.75 222.5,565 227.5,571.25 237.5,572.5 245,576.25 252.5,583" fill="none" stroke="#000" stroke-width="2" stroke-linejoin="round" shape-rendering="crispEdges"/>
<polyline points="119,525 130,527.5 137.5,532.5 146.25,541.25 150,541.25 157.5,535 163.75,536.25 171.25,545 173.75,555 175,566.25 180,575 183.75,583" fill="none" stroke="#000" stroke-width="2" stroke-linejoin="round" shape-rendering="crispEdges"/>
<polyline points="435,561.25 438.75,557.5 445,558.1 450,555.6 455,556.9 456.25,560 455,563.1 450,564.4 448.75,567.5 450,570.6 454.4,571.25 455,583" fill="none" stroke="#000" stroke-width="2" stroke-linejoin="round" shape-rendering="crispEdges"/>
<polyline points="435,561.25 437.5,566.25 441.9,570.6 447.5,574.4 449.4,577.5 449.4,583" fill="none" stroke="#000" stroke-width="2" stroke-linejoin="round" shape-rendering="crispEdges"/>
<ellipse cx="199.4" cy="294" rx="6.5" ry="3" fill="none" stroke="#000" stroke-width="2"/>
</g>
<rect x="121" y="95" width="564" height="487" fill="none" stroke="#000" stroke-width="2"/>
<text x="114.6" y="99.7" font-size="12" text-anchor="end" textLength="27.06" lengthAdjust="spacingAndGlyphs">45.5N</text>
<text x="114.6" y="140.7" font-size="12" text-anchor="end" textLength="18.6" lengthAdjust="spacingAndGlyphs">45N</text>
<text x="114.6" y="180.7" font-size="12" text-anchor="end" textLength="27.06" lengthAdjust="spacingAndGlyphs">44.5N</text>
<text x="114.6" y="221.7" font-size="12" text-anchor="end" textLength="18.6" lengthAdjust="spacingAndGlyphs">44N</text>
<text x="114.6" y="261.7" font-size="12" text-anchor="end" textLength="27.06" lengthAdjust="spacingAndGlyphs">43.5N</text>
<text x="114.6" y="302.7" font-size="12" text-anchor="end" textLength="18.6" lengthAdjust="spacingAndGlyphs">43N</text>
<text x="114.6" y="343.7" font-size="12" text-anchor="end" textLength="27.06" lengthAdjust="spacingAndGlyphs">42.5N</text>
<text x="114.6" y="383.7" font-size="12" text-anchor="end" textLength="18.6" lengthAdjust="spacingAndGlyphs">42N</text>
<text x="114.6" y="424.7" font-size="12" text-anchor="end" textLength="27.06" lengthAdjust="spacingAndGlyphs">41.5N</text>
<text x="114.6" y="464.7" font-size="12" text-anchor="end" textLength="18.6" lengthAdjust="spacingAndGlyphs">41N</text>
<text x="114.6" y="505.7" font-size="12" text-anchor="end" textLength="27.06" lengthAdjust="spacingAndGlyphs">40.5N</text>
<text x="114.6" y="546.7" font-size="12" text-anchor="end" textLength="18.6" lengthAdjust="spacingAndGlyphs">40N</text>
<text x="114.6" y="585.7" font-size="12" text-anchor="end" textLength="27.06" lengthAdjust="spacingAndGlyphs">39.5N</text>
<text x="122.5" y="597" font-size="12.5" text-anchor="middle" textLength="17.79" lengthAdjust="spacingAndGlyphs">15E</text>
<text x="190.5" y="597" font-size="12.5" text-anchor="middle" textLength="17.79" lengthAdjust="spacingAndGlyphs">16E</text>
<text x="258.5" y="597" font-size="12.5" text-anchor="middle" textLength="17.79" lengthAdjust="spacingAndGlyphs">17E</text>
<text x="325.5" y="597" font-size="12.5" text-anchor="middle" textLength="17.79" lengthAdjust="spacingAndGlyphs">18E</text>
<text x="393.5" y="597" font-size="12.5" text-anchor="middle" textLength="17.79" lengthAdjust="spacingAndGlyphs">19E</text>
<text x="461.5" y="597" font-size="12.5" text-anchor="middle" textLength="17.79" lengthAdjust="spacingAndGlyphs">20E</text>
<text x="528.5" y="597" font-size="12.5" text-anchor="middle" textLength="17.79" lengthAdjust="spacingAndGlyphs">21E</text>
<text x="596.5" y="597" font-size="12.5" text-anchor="middle" textLength="17.79" lengthAdjust="spacingAndGlyphs">22E</text>
<text x="664.5" y="597" font-size="12.5" text-anchor="middle" textLength="17.79" lengthAdjust="spacingAndGlyphs">23E</text>
<path d="M117,95.5H121M117,136.5H121M117,176.5H121M117,217.5H121M117,257.5H121M117,298.5H121M117,339.5H121M117,379.5H121M117,420.5H121M117,460.5H121M117,501.5H121M117,542.5H121M117,581.5H121M121.5,582V586M189.5,582V586M257.5,582V586M324.5,582V586M392.5,582V586M460.5,582V586M527.5,582V586M595.5,582V586M663.5,582V586" stroke="#000" stroke-width="1" fill="none"/>
<text x="4.4" y="616" font-size="10.5" textLength="82.5" lengthAdjust="spacingAndGlyphs">GrADS: COLA/IGES</text>
<text x="683.8" y="616.3" font-size="10.5" textLength="93.8" lengthAdjust="spacingAndGlyphs">2021-06-24-09:41</text>
</svg></body></html>
